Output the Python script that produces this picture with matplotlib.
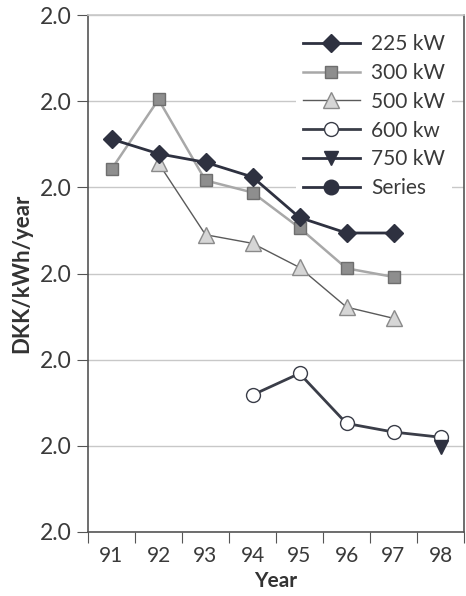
import numpy as np
import matplotlib.pyplot as plt
from matplotlib.ticker import FixedLocator

plt.rcParams['font.family'] = ['Lato', 'DejaVu Sans']

years = ["91", "92", "93", "94", "95", "96", "97", "98"]

## values (axis runs 0..6, every tick is labelled "2.0")
kw225 = [4.56, 4.39, 4.29, 4.12, 3.65, 3.47, 3.47, np.nan]
kw300 = [4.21, 5.02, 4.08, 3.94, 3.53, 3.06, 2.96, np.nan]
kw500 = [np.nan, 4.28, 3.45, 3.35, 3.07, 2.61, 2.48, np.nan]
kw600 = [np.nan, np.nan, np.nan, 1.59, 1.84, 1.26, 1.16, 1.10]
kw750 = [np.nan, np.nan, np.nan, np.nan, np.nan, np.nan, np.nan, 0.99]
series = [np.nan] * 8
ytick_labels = ["2.0"] * 7

x = np.arange(len(years))

fig = plt.figure(figsize=(4.66, 5.96), dpi=100)
ax = fig.add_axes([88/466, 1 - 532/596, (464-88)/466, (532-15)/596])

dark = "#2e3140"
ax.plot(x, kw225, color=dark, lw=2, marker="D", ms=9.5, mfc=dark, mec=dark, label="225 kW", zorder=5)
ax.plot(x, kw300, color="#a8a8a8", lw=1.8, marker="s", ms=8.5, mfc="#8e8e8e", mec="#6e6e6e", label="300 kW", zorder=4)
ax.plot(x, kw500, color="#5a5a5a", lw=1, marker="^", ms=11, mfc="#d6d6d6", mec="#8a8a8a", label="500 kW", zorder=3)
ax.plot(x, kw600, color="#3a3d48", lw=2, marker="o", ms=10, mfc="white", mec="#3a3d48", mew=1, label="600 kw", zorder=3)
ax.plot(x, kw750, color=dark, lw=2, marker="v", ms=10.5, mfc=dark, mec=dark, label="750 kW", zorder=6)
ax.plot(x, series, color=dark, lw=2, marker="o", ms=10.5, mfc=dark, mec=dark, label="Series")

ax.set_xlim(-0.5, len(years) - 0.5)
ax.set_ylim(0, 6)

## tick marks sit between the years, labels sit on the years
ax.xaxis.set_major_locator(FixedLocator(np.arange(-0.5, len(years), 1)))
ax.set_xticklabels([])
ax.xaxis.set_minor_locator(FixedLocator(x))
ax.set_xticklabels(years, minor=True)
ax.tick_params(axis="x", which="minor", length=0, pad=10, labelsize=15, labelcolor="#3a3a3a")
ax.tick_params(axis="x", which="major", length=8, color="#555555")

ax.set_yticks(np.arange(0, 7))
ax.set_yticklabels(ytick_labels)
ax.tick_params(axis="y", length=8, labelsize=16.5, labelcolor="#3a3a3a", color="#555555")

ax.grid(True, axis="y", color="#c8c8c8", lw=1)
ax.set_axisbelow(True)
for s in ax.spines.values():
    s.set_color("#555555")
    s.set_linewidth(1.2)
ax.spines["top"].set_color("#c8c8c8")

ax.set_ylabel("DKK/kWh/year", fontsize=16, fontweight="bold", color="#333333", labelpad=6)
ax.set_xlabel("Year", fontsize=15, fontweight="bold", color="#333333", labelpad=4)

leg = ax.legend(loc="upper left", bbox_to_anchor=((286-88)/376, 0.995), frameon=True, fontsize=15,
                handlelength=2.75, labelspacing=0.42, borderpad=0.3, handletextpad=0.55,
                labelcolor="#3a3a3a")
leg.get_frame().set_edgecolor("none")
leg.get_frame().set_facecolor("white")
leg.get_frame().set_alpha(1)

fig.savefig("out.png", dpi=100)
